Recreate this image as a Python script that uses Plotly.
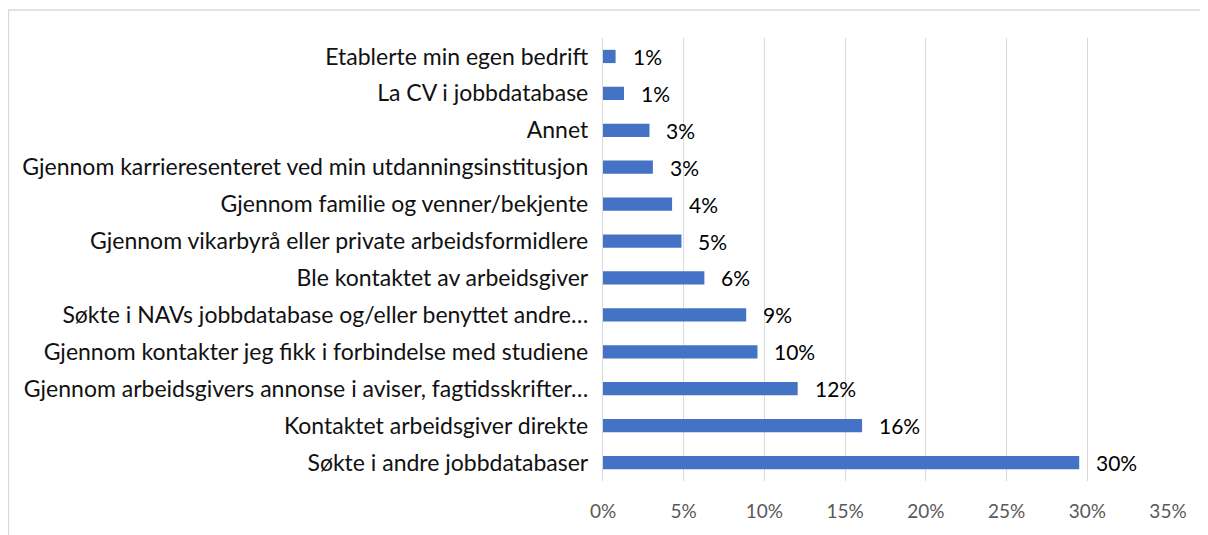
import plotly.graph_objects as go

categories = [
    "Søkte i andre jobbdatabaser",
    "Kontaktet arbeidsgiver direkte",
    "Gjennom arbeidsgivers annonse i aviser, fagtidsskrifter…",
    "Gjennom kontakter jeg fikk i forbindelse med studiene",
    "Søkte i NAVs jobbdatabase og/eller benyttet andre…",
    "Ble kontaktet av arbeidsgiver",
    "Gjennom vikarbyrå eller private arbeidsformidlere",
    "Gjennom familie og venner/bekjente",
    "Gjennom karrieresenteret ved min utdanningsinstitusjon",
    "Annet",
    "La CV i jobbdatabase",
    "Etablerte min egen bedrift",
]
values = [0.295, 0.1605, 0.1206, 0.0957, 0.0887, 0.0628, 0.0486, 0.0428, 0.0309, 0.0288, 0.013, 0.0078]
tick_vals = [0, 0.05, 0.10, 0.15, 0.20, 0.25, 0.30, 0.35]
tick_text = ["0%", "5%", "10%", "15%", "20%", "25%", "30%", "35%"]

FONT = "Lato"

fig = go.Figure()
fig.add_trace(go.Bar(
    x=values, y=categories, orientation="h",
    marker=dict(color="#4472C4", line=dict(width=0)),
    hoverinfo="skip",
))

for c, v in zip(categories, values):
    fig.add_annotation(
        x=v, y=c, xref="x", yref="y",
        text=f"{round(v*100):.0f}%", showarrow=False,
        xanchor="left", xshift=15,
        font=dict(family=FONT, size=21, color="#000000"),
    )

# page body has an 8px margin; figure sized to fit the window
W, H = 1200, 527
ml, mr, mt, mb = 595, 40, 30, 54
pw, ph = W - ml - mr, H - mt - mb
fig.add_shape(
    type="rect", xref="paper", yref="paper",
    x0=(0.5 - ml) / pw, x1=(W + 5 - ml) / pw,
    y0=(H - mb - (H + 5)) / ph, y1=(H - mb - 2) / ph,
    line=dict(color="#d9d9d9", width=1.3), fillcolor="rgba(0,0,0,0)",
    layer="below",
)

fig.update_layout(
    width=W, height=H,
    margin=dict(l=ml, r=mr, t=mt, b=mb),
    paper_bgcolor="white", plot_bgcolor="white",
    bargap=0.64,
    showlegend=False,
    font=dict(family=FONT, size=23, color="#000000"),
    xaxis=dict(
        range=[0, 0.35], tickvals=tick_vals, ticktext=tick_text,
        showgrid=True, gridcolor="#d9d9d9", gridwidth=1.3,
        zeroline=False, showline=False, ticks="",
        tickfont=dict(family=FONT, size=19, color="#595959"),
        ticklabelstandoff=17,
    ),
    yaxis=dict(
        showgrid=False, zeroline=False, showline=True, linecolor="#d9d9d9", linewidth=1.3,
        ticks="", ticklabelstandoff=9,
        tickfont=dict(family=FONT, size=23, color="#111111"),
    ),
)

fig.write_html("out.html")
